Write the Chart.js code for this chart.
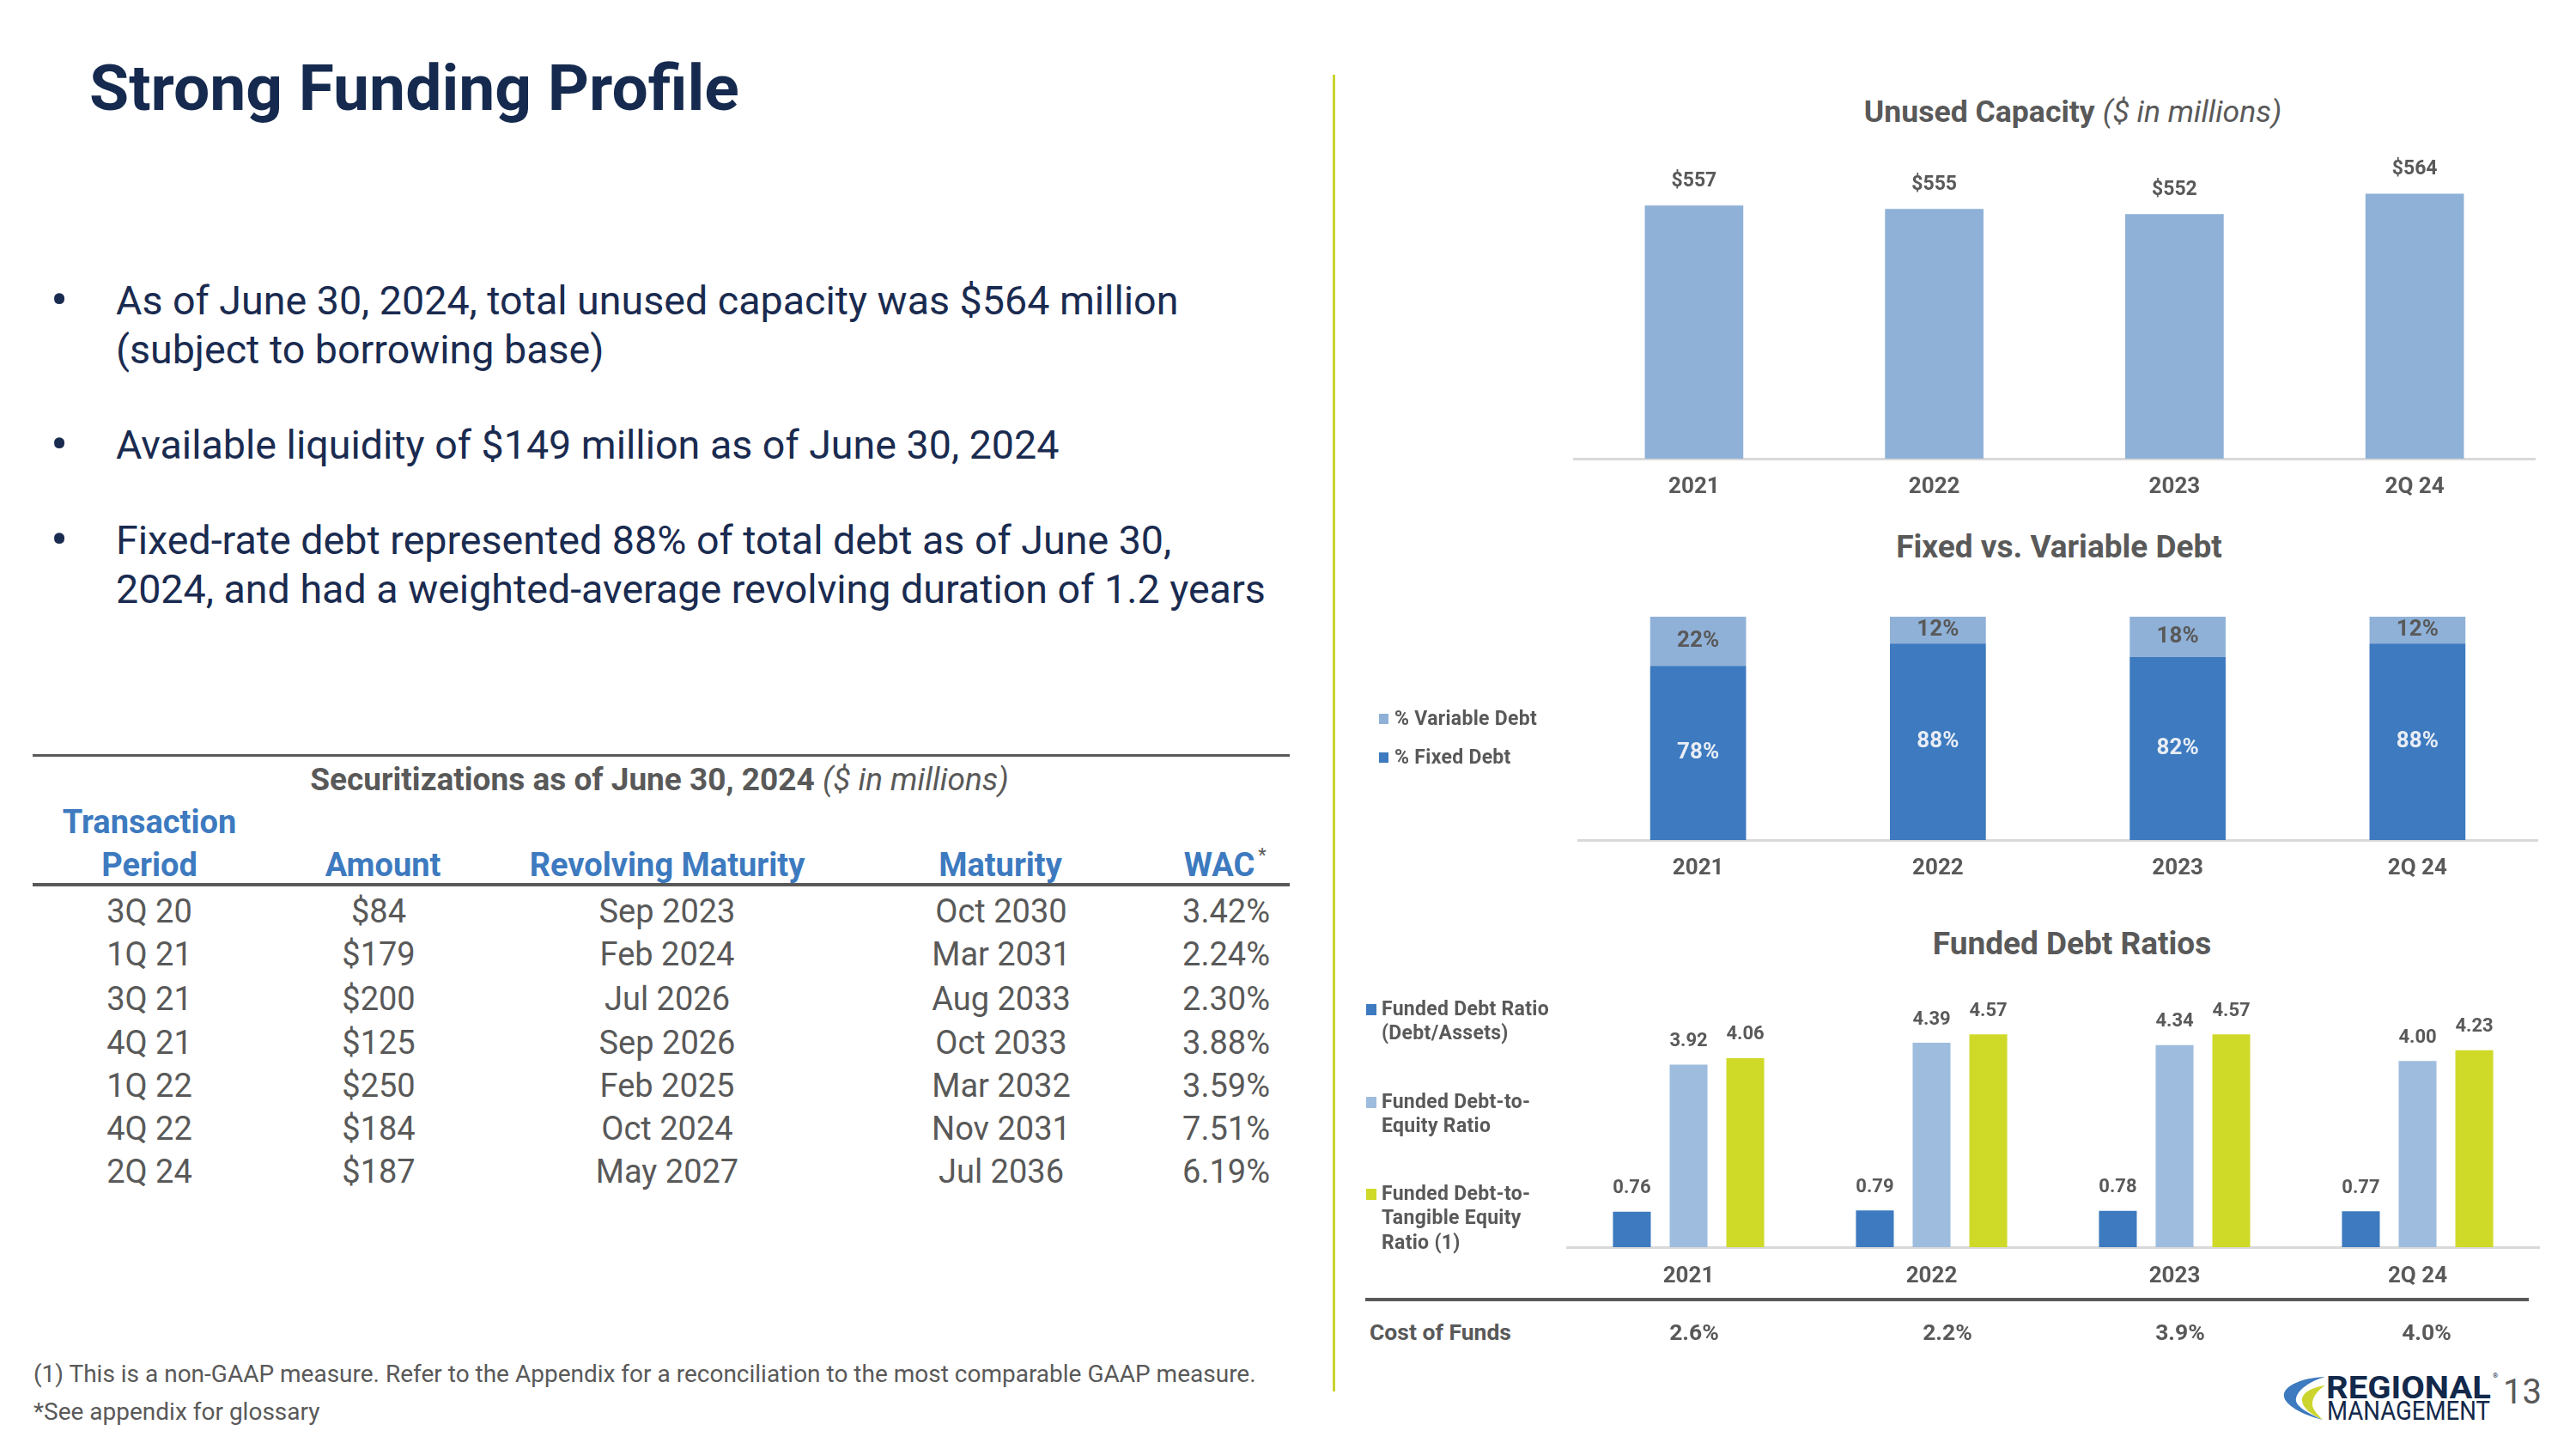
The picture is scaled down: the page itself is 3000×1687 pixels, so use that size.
<!DOCTYPE html>
<html>
<head>
<meta charset="utf-8">
<script src="https://cdn.jsdelivr.net/npm/chart.js@4.4.1/dist/chart.umd.min.js"></script>
<style>
html,body{margin:0;padding:0;}
body{width:3000px;height:1687px;position:relative;overflow:hidden;background:#fff;font-family:Roboto,"Open Sans",sans-serif;color:#595959;}
.abs{position:absolute;white-space:nowrap;}
.c{transform:translateX(-50%);}
canvas{position:absolute;}
#title{left:104px;top:62px;font-size:75px;line-height:80px;font-weight:bold;color:#152a4e;}
.bullet{position:absolute;left:135px;font-size:46.6px;line-height:57px;color:#1a2b50;white-space:nowrap;}
.bullet::before{content:'\2022';position:absolute;left:-76px;top:-1px;font-size:60px;line-height:57px;}
.ctitle{font-size:37px;line-height:40px;font-weight:bold;color:#595959;}
.ctitle i{font-weight:normal;}
.rule{position:absolute;background:#595959;}
.th{font-size:38px;line-height:50px;font-weight:bold;color:#3d7abf;}
.td{font-size:38px;line-height:50px;color:#595959;}
.leg{font-size:23px;font-weight:bold;color:#595959;letter-spacing:0.3px;}
.leg3{font-size:23px;line-height:28.5px;font-weight:bold;color:#595959;letter-spacing:0.3px;}
.sq{position:absolute;}
.foot{font-size:28px;line-height:36px;color:#595959;left:39px;}
.cof{font-size:26.5px;line-height:34px;font-weight:bold;color:#595959;}
</style>
</head>
<body>
<div id="title" class="abs">Strong Funding Profile</div>

<div class="bullet" style="top:322px">As of June 30, 2024, total unused capacity was $564 million<br>(subject to borrowing base)</div>
<div class="bullet" style="top:490px">Available liquidity of $149 million as of June 30, 2024</div>
<div class="bullet" style="top:601px">Fixed-rate debt represented 88% of total debt as of June 30,<br>2024, and had a weighted-average revolving duration of 1.2 years</div>

<div class="rule" style="left:38px;top:878px;width:1464px;height:3px;"></div>
<div class="abs c" style="left:768px;top:888px;font-size:37px;line-height:40px;font-weight:bold;color:#595959;">Securitizations as of June 30, 2024 <i style="font-weight:normal">($ in millions)</i></div>
<div class="rule" style="left:38px;top:1028px;width:1464px;height:4px;"></div>
<div id="table"></div>

<div class="abs foot" style="top:1582px">(1) This is a non-GAAP measure. Refer to the Appendix for a reconciliation to the most comparable GAAP measure.</div>
<div class="abs foot" style="top:1626px">*See appendix for glossary</div>

<div class="rule" style="left:1552px;top:87px;width:3px;height:1533px;background:#c9d32c;"></div>

<div class="abs c ctitle" style="left:2414px;top:110px;font-size:35.6px;">Unused Capacity <i>($ in millions)</i></div>
<div class="abs c ctitle" style="left:2398px;top:617px;">Fixed vs. Variable Debt</div>
<div class="abs c ctitle" style="left:2413px;top:1079px;">Funded Debt Ratios</div>

<canvas id="capChart"></canvas>
<canvas id="mixChart"></canvas>
<canvas id="ratioChart"></canvas>

<div id="legend2"></div>
<div id="legend3"></div>

<div class="rule" style="left:1590px;top:1511px;width:1355px;height:4px;"></div>
<div class="abs cof" style="left:1595px;top:1534px;">Cost of Funds</div>
<div id="cof"></div>

<svg class="abs" style="left:2650px;top:1590px;" width="280" height="80" viewBox="0 0 280 80">
  <path d="M58 13 C30 14 8 24 10 36 C11 45 30 57 55 63 C35 54 22 46 24 38 C26 28 40 18 58 13Z" fill="#3d7abf"/>
  <path d="M58 23 C42 25 30 32 31 41 C32 49 40 56 55 63 C47 55 42 49 43 43 C44 35 50 28 58 23Z" fill="#cbd52e"/>
  <text x="59" y="38" font-family="Roboto" font-weight="bold" font-size="36" fill="#13294b" textLength="192" lengthAdjust="spacingAndGlyphs">REGIONAL</text>
  <text x="253" y="14" font-family="Roboto" font-size="8" fill="#13294b">®</text>
  <text x="60" y="63" font-family="Roboto" font-size="32" fill="#13294b" textLength="190" lengthAdjust="spacingAndGlyphs">MANAGEMENT</text>
</svg>
<div class="abs" style="left:2915px;top:1598px;font-size:40px;line-height:46px;color:#595959;">13</div>

<script>
const years = ['2021', '2022', '2023', '2Q 24'];
const unusedCapacity = [557, 555, 552, 564];
const fixedDebt = [78, 88, 82, 88];
const variableDebt = [22, 12, 18, 12];
const debtToAssets = [0.76, 0.79, 0.78, 0.77];
const debtToEquity = [3.92, 4.39, 4.34, 4.00];
const debtToTangible = [4.06, 4.57, 4.57, 4.23];
const costOfFunds = [2.6, 2.2, 3.9, 4.0];

const secPeriods = ['3Q 20', '1Q 21', '3Q 21', '4Q 21', '1Q 22', '4Q 22', '2Q 24'];
const secAmounts = [84, 179, 200, 125, 250, 184, 187];
const secRevolving = ['Sep 2023', 'Feb 2024', 'Jul 2026', 'Sep 2026', 'Feb 2025', 'Oct 2024', 'May 2027'];
const secMaturity = ['Oct 2030', 'Mar 2031', 'Aug 2033', 'Oct 2033', 'Mar 2032', 'Nov 2031', 'Jul 2036'];
const secWac = [3.42, 2.24, 2.30, 3.88, 3.59, 7.51, 6.19];

const BLUE = '#3d7abf', LIGHT = '#8fb1d8', LIGHT3 = '#9ebcdd', LIME = '#cfd928', GREY = '#595959';

// table
const table = document.getElementById('table');
function put(parent, cls, html, x, cy, lh) {
    const d = document.createElement('div');
    d.className = 'abs c ' + cls;
    d.style.left = x + 'px';
    d.style.top = (cy - lh / 2) + 'px';
    d.innerHTML = html;
    parent.appendChild(d);
    return d;
}
put(table, 'th', 'Transaction', 174, 957, 50);
put(table, 'th', 'Period', 174, 1007, 50);
put(table, 'th', 'Amount', 446, 1007, 50);
put(table, 'th', 'Revolving Maturity', 777, 1007, 50);
put(table, 'th', 'Maturity', 1165, 1007, 50);
put(table, 'th', 'WAC', 1420, 1007, 50);
put(table, 'td', '*', 1470, 986, 30).style.fontSize = '22px';

const rowY = [1061, 1111, 1163, 1214, 1264, 1314, 1364];
secPeriods.forEach((p, i) => {
    put(table, 'td', p, 174, rowY[i], 50);
    put(table, 'td', '$' + secAmounts[i], 441, rowY[i], 50);
    put(table, 'td', secRevolving[i], 777, rowY[i], 50);
    put(table, 'td', secMaturity[i], 1166, rowY[i], 50);
    put(table, 'td', secWac[i].toFixed(2) + '%', 1428, rowY[i], 50);
});

// cost of funds row
const cofX = [1973, 2268, 2539, 2826];
const cof = document.getElementById('cof');
costOfFunds.forEach((v, i) => put(cof, 'cof', v.toFixed(1) + '%', cofX[i], 1551, 34));

// value labels on bars
const barLabels = {
    id: 'barLabels',
    afterDatasetsDraw(chart) {
        const ctx = chart.ctx;
        chart.data.datasets.forEach((ds, i) => {
            const lab = ds.valueLabel;
            const meta = chart.getDatasetMeta(i);
            ctx.save();
            ctx.font = 'bold ' + lab.size + 'px Roboto';
            ctx.fillStyle = lab.color;
            ctx.textAlign = 'center';
            ctx.textBaseline = 'middle';
            meta.data.forEach((bar, j) => {
                const y = lab.inside ? (bar.y + bar.base) / 2 : bar.y - lab.offset;
                ctx.fillText(lab.prefix + ds.data[j].toFixed(lab.dec) + lab.suffix, bar.x, y);
            });
            ctx.restore();
        });
    }
};

function makeChart(id, box, area, cfg) {
    const cv = document.getElementById(id);
    cv.width = box.w;
    cv.height = box.h;
    cv.style.left = box.x + 'px';
    cv.style.top = box.y + 'px';
    const lh = cfg.tickSize * 1.2;
    const pad = cfg.tickY - area.bottom - lh / 2;
    return new Chart(cv, {
        type: 'bar',
        data: { labels: years, datasets: cfg.datasets },
        options: {
            responsive: false,
            animation: false,
            devicePixelRatio: 1,
            layout: {
                padding: {
                    left: area.left - box.x,
                    right: box.x + box.w - area.right,
                    top: area.top - box.y,
                    bottom: box.y + box.h - area.bottom - lh - 2 * pad
                }
            },
            plugins: { legend: { display: false }, tooltip: { enabled: false } },
            scales: {
                x: {
                    stacked: !!cfg.stacked,
                    grid: { display: false, drawTicks: false },
                    border: { color: '#d9d9d9', width: 3 },
                    ticks: { padding: pad, color: GREY, font: { family: 'Roboto', size: cfg.tickSize, weight: 'bold', lineHeight: 1.2 } }
                },
                y: { display: false, stacked: !!cfg.stacked, min: cfg.min, max: cfg.max }
            }
        },
        plugins: [barLabels]
    });
}

makeChart('capChart', { x: 1780, y: 160, w: 1220, h: 460 }, { left: 1833, right: 2952, top: 180, bottom: 534 }, {
    tickSize: 26, tickY: 567, min: 408, max: 587,
    datasets: [{
        label: 'Unused Capacity', data: unusedCapacity, backgroundColor: LIGHT,
        categoryPercentage: 1, barPercentage: 0.41,
        valueLabel: { size: 23, color: GREY, offset: 28, prefix: '$', suffix: '', dec: 0 }
    }]
});

const mixSets = [
    { label: '% Fixed Debt', data: fixedDebt, backgroundColor: BLUE, categoryPercentage: 1, barPercentage: 0.4,
      valueLabel: { size: 26, color: '#e8edf5', inside: true, prefix: '', suffix: '%', dec: 0 } },
    { label: '% Variable Debt', data: variableDebt, backgroundColor: LIGHT, categoryPercentage: 1, barPercentage: 0.4,
      valueLabel: { size: 26, color: GREY, inside: true, prefix: '', suffix: '%', dec: 0 } }
];
makeChart('mixChart', { x: 1780, y: 690, w: 1220, h: 370 }, { left: 1838, right: 2955, top: 718, bottom: 978 }, {
    tickSize: 26, tickY: 1011, min: 0, max: 100, stacked: true, datasets: mixSets
});

const ratioSets = [
    { label: 'Funded Debt Ratio<br>(Debt/Assets)', data: debtToAssets, backgroundColor: BLUE },
    { label: 'Funded Debt-to-<br>Equity Ratio', data: debtToEquity, backgroundColor: LIGHT3 },
    { label: 'Funded Debt-to-<br>Tangible Equity<br>Ratio (1)', data: debtToTangible, backgroundColor: LIME }
].map(d => Object.assign(d, {
    categoryPercentage: 0.7, barPercentage: 0.667,
    valueLabel: { size: 22, color: GREY, offset: 27, prefix: '', suffix: '', dec: 2 }
}));
makeChart('ratioChart', { x: 1780, y: 1140, w: 1220, h: 400 }, { left: 1825, right: 2957, top: 1181, bottom: 1452 }, {
    tickSize: 26, tickY: 1486, min: 0, max: 5, datasets: ratioSets
});

// legends
const leg2 = document.getElementById('legend2');
[[mixSets[1], 837], [mixSets[0], 882]].forEach(([ds, cy]) => {
    const sq = document.createElement('div');
    sq.className = 'sq';
    sq.style.cssText = `left:1606px;top:${cy - 6}px;width:11px;height:12px;background:${ds.backgroundColor}`;
    leg2.appendChild(sq);
    const t = document.createElement('div');
    t.className = 'abs leg';
    t.style.cssText = `left:1624px;top:${cy - 14}px;line-height:28px;`;
    t.textContent = ds.label;
    leg2.appendChild(t);
});
const leg3 = document.getElementById('legend3');
[1175, 1283, 1390].forEach((cy, i) => {
    const ds = ratioSets[i];
    const sq = document.createElement('div');
    sq.className = 'sq';
    sq.style.cssText = `left:1591px;top:${cy - 6}px;width:12px;height:13px;background:${ds.backgroundColor}`;
    leg3.appendChild(sq);
    const t = document.createElement('div');
    t.className = 'abs leg3';
    t.style.cssText = `left:1609px;top:${cy - 14.25}px;`;
    t.innerHTML = ds.label;
    leg3.appendChild(t);
});
</script>
</body>
</html>
